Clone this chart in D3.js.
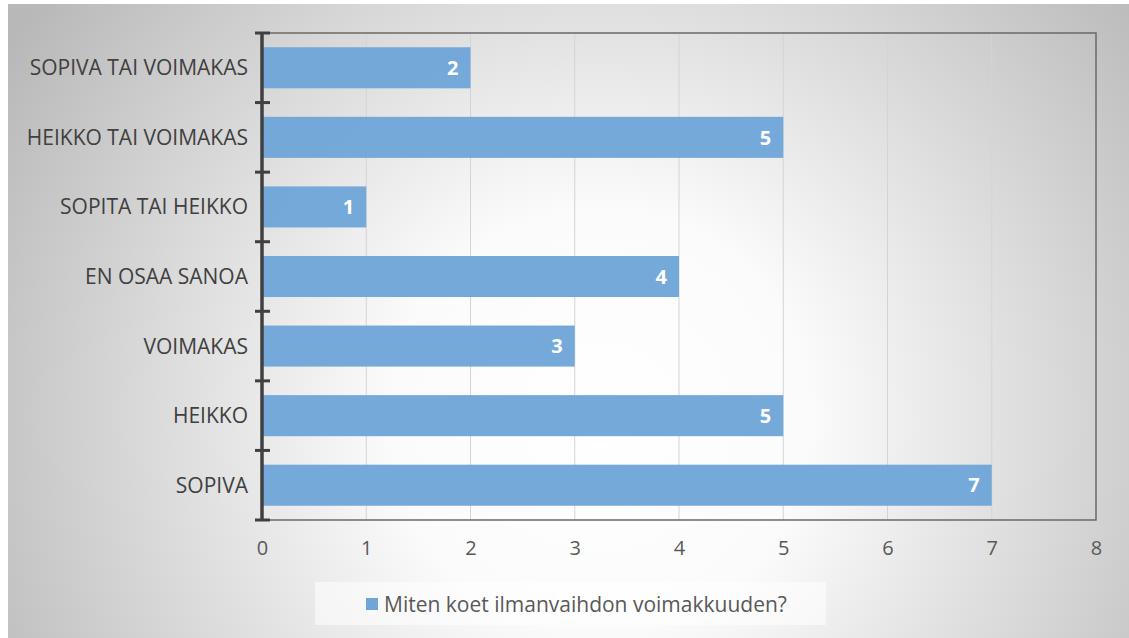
<!DOCTYPE html>
<html>
<head>
<meta charset="utf-8">
<script src="https://cdn.jsdelivr.net/npm/d3@7"></script>
<style>
  html, body { margin: 0; padding: 0; background: #ffffff; }
  svg { display: block; }
  text { font-family: "Open Sans", "Noto Sans", sans-serif; }
</style>
</head>
<body>
<svg id="chart" width="1129" height="638"></svg>
<script>
// Survey answers: how the ventilation strength is perceived
const categories = [
  "SOPIVA TAI VOIMAKAS",
  "HEIKKO TAI VOIMAKAS",
  "SOPITA TAI HEIKKO",
  "EN OSAA SANOA",
  "VOIMAKAS",
  "HEIKKO",
  "SOPIVA"
];
const values = [2, 5, 1, 4, 3, 5, 7];
const xTicks = [0, 1, 2, 3, 4, 5, 6, 7, 8];
const seriesName = "Miten koet ilmanvaihdon voimakkuuden?";

const W = 1129, H = 638;
const plot = { left: 262, top: 33, right: 1096, bottom: 520 };
const barColor = "#6fa6d9";
const labelSize = 21;

const svg = d3.select("#chart");
const defs = svg.append("defs");

// Background: soft radial light from the middle of the chart
const bg = defs.append("radialGradient")
  .attr("id", "bgGrad")
  .attr("gradientUnits", "userSpaceOnUse")
  .attr("cx", 600).attr("cy", 420).attr("r", 700);
bg.append("stop").attr("offset", "0").attr("stop-color", "#ffffff");
bg.append("stop").attr("offset", "0.3").attr("stop-color", "#fbfbfb");
bg.append("stop").attr("offset", "1").attr("stop-color", "#b8b8b8");

svg.append("rect")
  .attr("x", 8).attr("y", 4)
  .attr("width", W - 8).attr("height", H - 4)
  .attr("fill", "url(#bgGrad)");

const x = d3.scaleLinear().domain([0, 8]).range([plot.left, plot.right]);
const y = d3.scaleBand().domain(categories).range([plot.top, plot.bottom]).paddingInner(0.41).paddingOuter(0.205);

// Vertical gridlines
svg.append("g")
  .selectAll("line")
  .data(xTicks.slice(1, -1))
  .join("line")
  .attr("x1", d => x(d)).attr("x2", d => x(d))
  .attr("y1", plot.top).attr("y2", plot.bottom)
  .attr("stroke", "#d4d4d4").attr("stroke-width", 1);

// Bars
svg.append("g")
  .selectAll("rect")
  .data(values)
  .join("rect")
  .attr("x", x(0))
  .attr("y", (d, i) => y(categories[i]))
  .attr("width", d => x(d) - x(0))
  .attr("height", y.bandwidth())
  .attr("fill", barColor)
  .attr("fill-opacity", 0.97);

// Value labels inside bar ends
svg.append("g")
  .selectAll("text")
  .data(values)
  .join("text")
  .attr("x", d => x(d) - 12)
  .attr("y", (d, i) => y(categories[i]) + y.bandwidth() / 2)
  .attr("dy", "0.36em")
  .attr("text-anchor", "end")
  .attr("fill", "#ffffff")
  .attr("font-weight", "bold")
  .style("font-size", "20px")
  .text(d => d);

// Plot frame: top, right, bottom
svg.append("path")
  .attr("d", `M${plot.left},${plot.top}H${plot.right}V${plot.bottom}H${plot.left}`)
  .attr("fill", "none")
  .attr("stroke", "#6a6a6a")
  .attr("stroke-width", 1.5);

// Category axis: thick line with cross ticks at band boundaries
const bounds = d3.range(categories.length + 1).map(i => plot.top + i * (plot.bottom - plot.top) / categories.length);
const yAxis = svg.append("g");
yAxis.append("line")
  .attr("x1", plot.left).attr("x2", plot.left)
  .attr("y1", plot.top).attr("y2", plot.bottom)
  .attr("stroke", "#404040").attr("stroke-width", 3.5);
yAxis.selectAll("line.tick")
  .data(bounds)
  .join("line")
  .attr("class", "tick")
  .attr("x1", plot.left - 7).attr("x2", plot.left + 8)
  .attr("y1", d => d).attr("y2", d => d)
  .attr("stroke", "#404040").attr("stroke-width", 3);

// Category labels
svg.append("g")
  .selectAll("text")
  .data(categories)
  .join("text")
  .attr("x", plot.left - 14)
  .attr("y", d => y(d) + y.bandwidth() / 2)
  .attr("dy", "0.36em")
  .attr("text-anchor", "end")
  .attr("fill", "#404040")
  .style("font-size", labelSize + "px")
  .text(d => d);

// Value axis labels
const xAxis = svg.append("g")
  .attr("transform", `translate(0,${plot.bottom})`)
  .call(d3.axisBottom(x).tickValues(xTicks).tickSize(0).tickPadding(21).tickFormat(d3.format("d")));
xAxis.select(".domain").remove();
xAxis.selectAll("text")
  .attr("fill", "#595959")
  .style("font-size", "20px")
  .style("font-family", "'Open Sans', 'Noto Sans', sans-serif");

// Legend
const legend = svg.append("g");
legend.append("rect")
  .attr("x", 315).attr("y", 582).attr("width", 511).attr("height", 43)
  .attr("fill", "#ffffff").attr("fill-opacity", 0.55);
legend.append("rect")
  .attr("x", 366).attr("y", 598).attr("width", 12).attr("height", 12)
  .attr("fill", barColor);
legend.append("text")
  .attr("x", 384).attr("y", 604.5)
  .attr("dy", "0.36em")
  .attr("fill", "#595959")
  .style("font-size", labelSize + "px")
  .text(seriesName);
</script>
</body>
</html>
